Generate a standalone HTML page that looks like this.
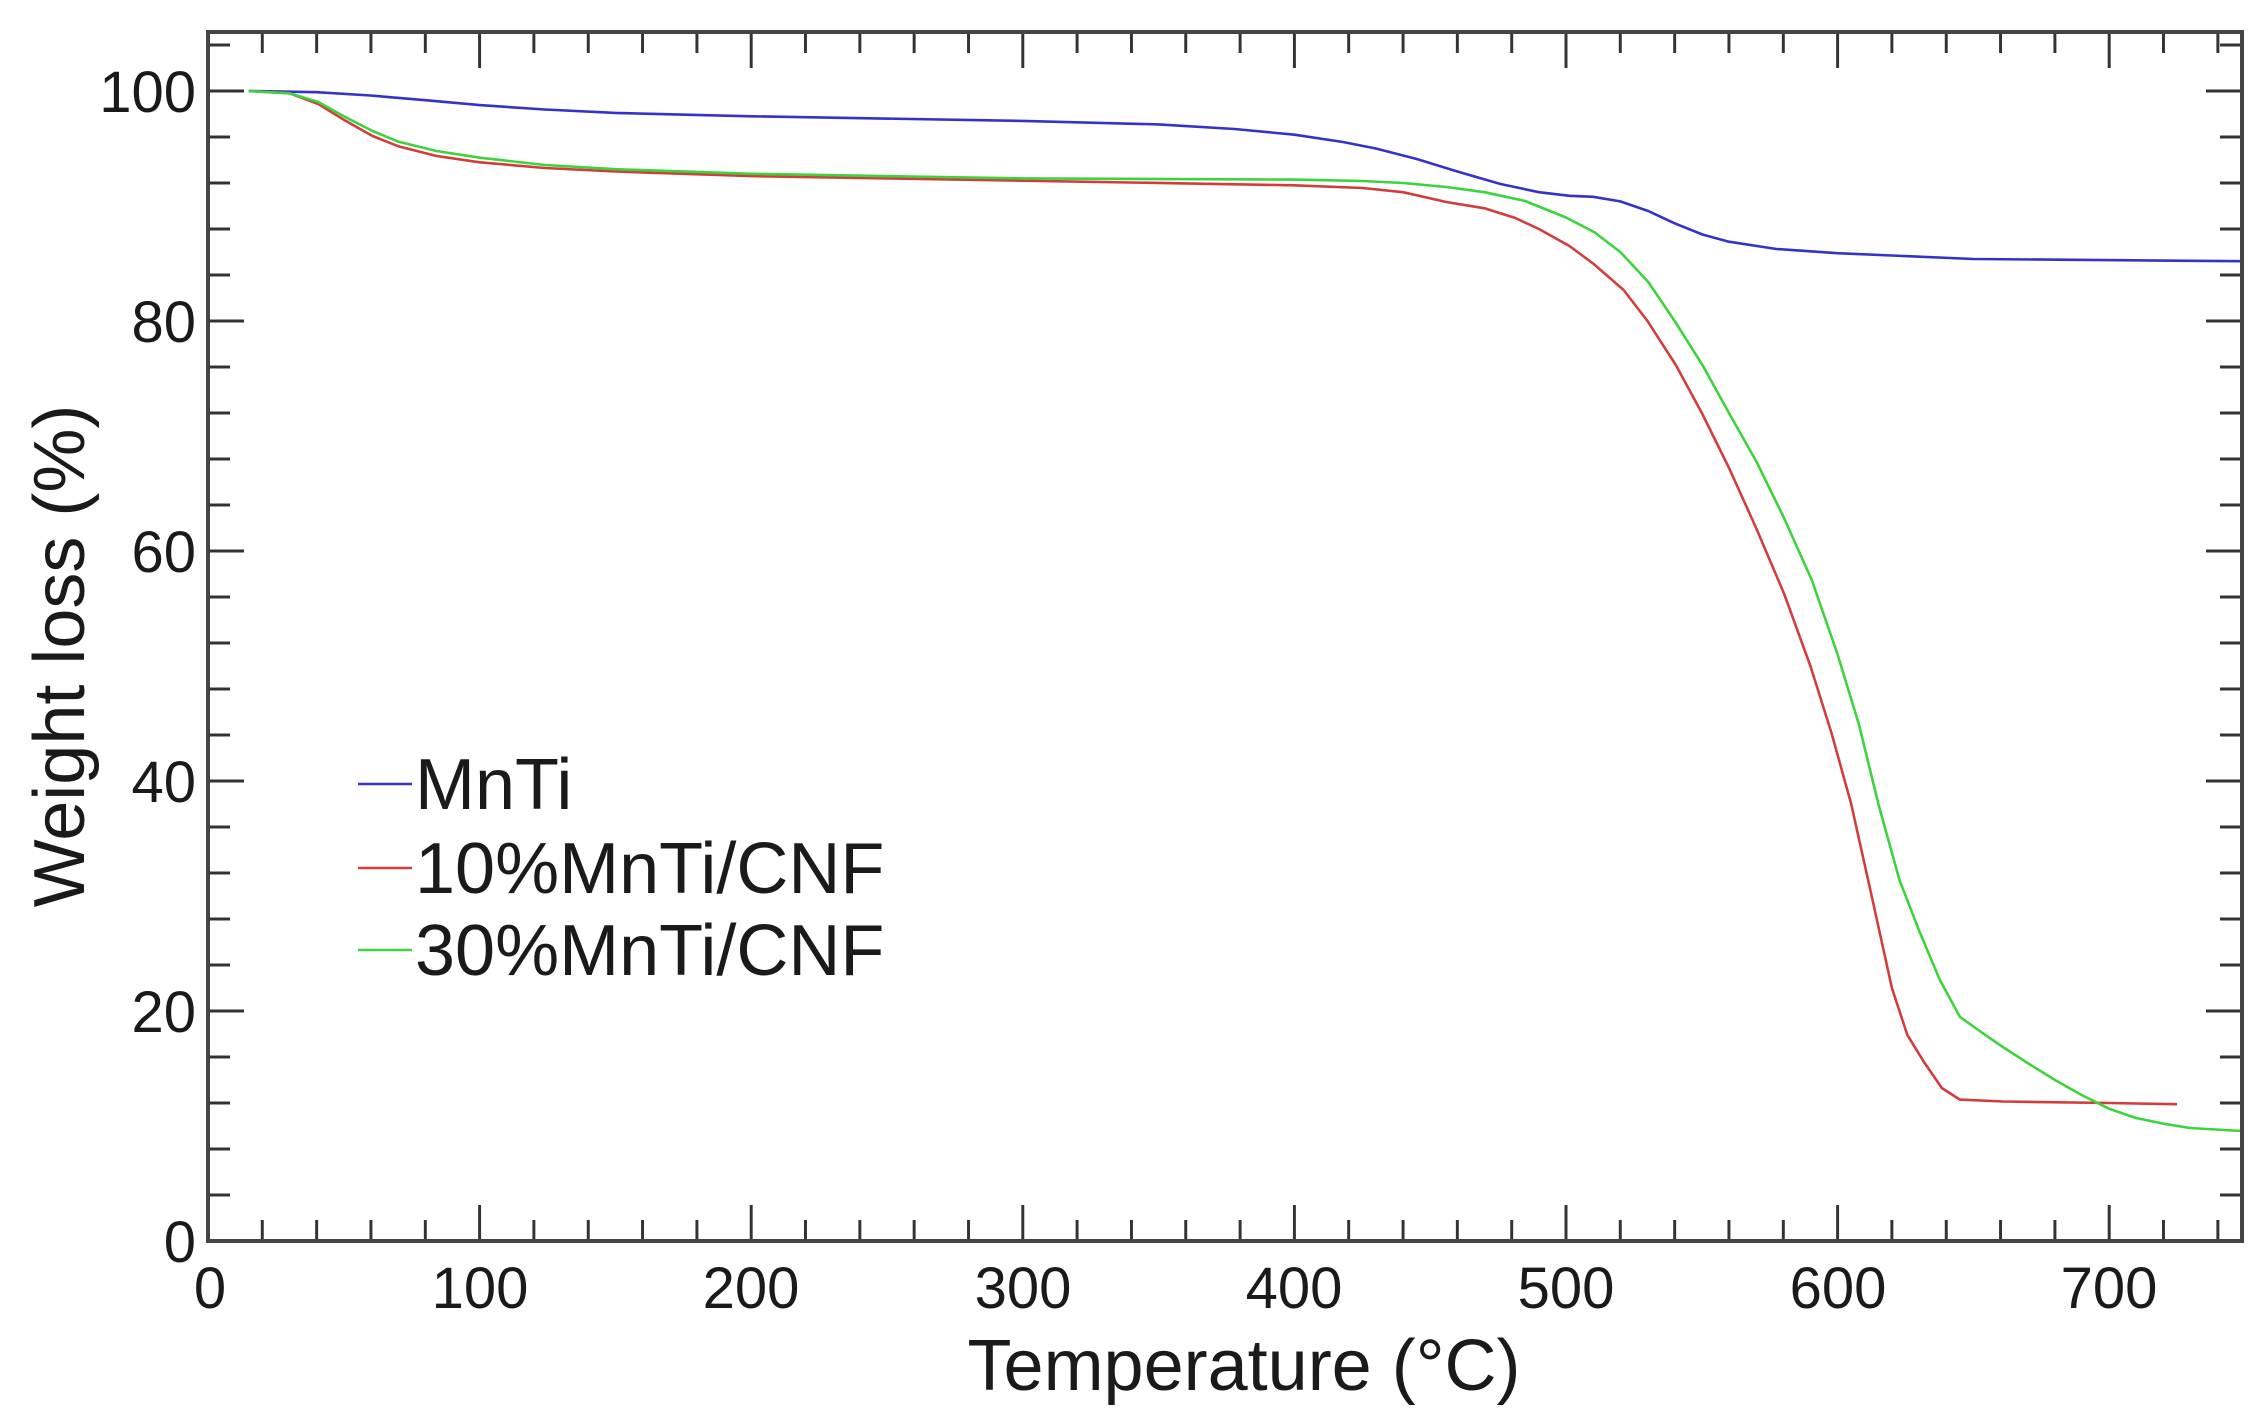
<!DOCTYPE html>
<html><head><meta charset="utf-8"><style>
html,body{margin:0;padding:0;background:#fff}
svg{display:block}
text{font-family:"Liberation Sans",Arial,sans-serif;fill:#1a1a1a}
</style></head><body>
<svg width="2263" height="1423" viewBox="0 0 2263 1423" xmlns="http://www.w3.org/2000/svg">
<g transform="translate(208,0) scale(0.98513,1) translate(-208,0)">
<g stroke="#333" stroke-width="3" fill="none">
<path d="M263.1,1241v-21M318.3,1241v-21M373.4,1241v-21M428.6,1241v-21M483.7,1241v-36M538.8,1241v-21M594,1241v-21M649.1,1241v-21M704.3,1241v-21M759.4,1241v-36M814.5,1241v-21M869.7,1241v-21M924.8,1241v-21M980,1241v-21M1035.1,1241v-36M1090.2,1241v-21M1145.4,1241v-21M1200.5,1241v-21M1255.7,1241v-21M1310.8,1241v-36M1365.9,1241v-21M1421.1,1241v-21M1476.2,1241v-21M1531.4,1241v-21M1586.5,1241v-36M1641.6,1241v-21M1696.8,1241v-21M1751.9,1241v-21M1807.1,1241v-21M1862.2,1241v-36M1917.3,1241v-21M1972.5,1241v-21M2027.6,1241v-21M2082.8,1241v-21M2137.9,1241v-36M2193,1241v-21M2248.2,1241v-21"/>
<path d="M263.1,32v21M318.3,32v21M373.4,32v21M428.6,32v21M483.7,32v36M538.8,32v21M594,32v21M649.1,32v21M704.3,32v21M759.4,32v36M814.5,32v21M869.7,32v21M924.8,32v21M980,32v21M1035.1,32v36M1090.2,32v21M1145.4,32v21M1200.5,32v21M1255.7,32v21M1310.8,32v36M1365.9,32v21M1421.1,32v21M1476.2,32v21M1531.4,32v21M1586.5,32v36M1641.6,32v21M1696.8,32v21M1751.9,32v21M1807.1,32v21M1862.2,32v36M1917.3,32v21M1972.5,32v21M2027.6,32v21M2082.8,32v21M2137.9,32v36M2193,32v21M2248.2,32v21"/>
</g>
<g fill="none" stroke-width="2.6" stroke-linejoin="round">
<polyline stroke="#3333cc" points="249.4,91 318.3,92.2 373,95.5 428.6,100.2 483.7,105.1 550,109.5 621.6,112.9 759.4,116.3 1035.1,120.9 1173,124.4 1250,129 1310.8,134.7 1360,142 1393.5,148.5 1435,159 1476.2,171.5 1520,184 1559,192.2 1590,195.8 1614,196.8 1641.6,201.4 1670,211 1696.8,223.3 1725,234.5 1751.9,241.7 1800,249 1862.2,253.2 2000,259 2272,261.2"/>
<polyline stroke="#d43c3c" points="249.4,91 290.7,93.3 320,104 345.9,119.8 375,136 401,146.2 440,156 483.7,162.3 550,168 621.6,171.5 759.4,176.1 1035.1,180.7 1310.8,185.3 1380,188 1421.1,192.2 1465,202 1503.8,208.3 1535,218 1559,229 1590,246 1614,263.5 1645,290 1669.2,321 1698,365 1724.4,413 1752,468 1779.5,528 1808,594 1834.6,666 1856,733 1876,804 1897,897 1917.3,988 1933,1035 1950.4,1062.8 1968,1088 1986.3,1099.6 2030,1101.5 2137.9,1103 2206.8,1104.2"/>
<polyline stroke="#3cd43c" points="249.4,91 290.7,93.3 320,102 345.9,116.3 375,131 401,141.6 440,151 483.7,157.7 550,165 621.6,169.2 759.4,173.8 1035.1,178.4 1310.8,179.6 1380,181 1421.1,183 1465,187 1503.8,192.2 1545,201 1586.5,217.5 1615,232 1641.6,252 1670,282 1696.8,321 1725,365 1751.9,413 1780,462 1807.1,516.5 1836,580 1862.2,654.5 1884,725 1903.6,804 1925,880 1944.9,930.5 1966,980 1986.3,1016.8 2005,1030 2027.6,1045.5 2055,1063 2082.8,1080 2110,1095 2137.9,1108.8 2165,1118 2193,1123.7 2220,1128 2272,1131"/>
</g>
</g>
<g stroke="#333" stroke-width="3" fill="none">
<path d="M208,1195h22M208,1149h22M208,1103h22M208,1057h22M208,1011h36M208,965h22M208,919h22M208,873h22M208,827h22M208,781h36M208,735h22M208,689h22M208,643h22M208,597h22M208,551h36M208,505h22M208,459h22M208,413h22M208,367h22M208,321h36M208,275h22M208,229h22M208,183h22M208,137h22M208,91h36M208,45h22"/>
<path d="M2242,1195h-22M2242,1149h-22M2242,1103h-22M2242,1057h-22M2242,1011h-36M2242,965h-22M2242,919h-22M2242,873h-22M2242,827h-22M2242,781h-36M2242,735h-22M2242,689h-22M2242,643h-22M2242,597h-22M2242,551h-36M2242,505h-22M2242,459h-22M2242,413h-22M2242,367h-22M2242,321h-36M2242,275h-22M2242,229h-22M2242,183h-22M2242,137h-22M2242,91h-36M2242,45h-22"/>
</g>
<rect x="208" y="32" width="2034" height="1209" fill="none" stroke="#444" stroke-width="4"/>
<g font-size="58" text-anchor="end">
<text x="196" y="112">100</text><text x="196" y="342">80</text><text x="196" y="572">60</text>
<text x="196" y="802">40</text><text x="196" y="1032">20</text><text x="196" y="1262">0</text>
</g>
<g font-size="58" text-anchor="middle">
<text x="210" y="1308">0</text><text x="480" y="1308">100</text><text x="751" y="1308">200</text>
<text x="1023" y="1308">300</text><text x="1294" y="1308">400</text><text x="1566" y="1308">500</text>
<text x="1838" y="1308">600</text><text x="2109" y="1308">700</text>
</g>
<text x="1244" y="1390" font-size="72" text-anchor="middle">Temperature (°C)</text>
<text transform="translate(84,656) rotate(-90)" font-size="72" text-anchor="middle">Weight loss (%)</text>
<g stroke-width="2.6">
<line x1="358" y1="784" x2="412" y2="784" stroke="#3333cc"/>
<line x1="358" y1="868" x2="412" y2="868" stroke="#d43c3c"/>
<line x1="358" y1="950" x2="412" y2="950" stroke="#3cd43c"/>
</g>
<g font-size="72">
<text x="415" y="809">MnTi</text>
<text x="415" y="893">10%MnTi/CNF</text>
<text x="415" y="975">30%MnTi/CNF</text>
</g>
</svg>
</body></html>
